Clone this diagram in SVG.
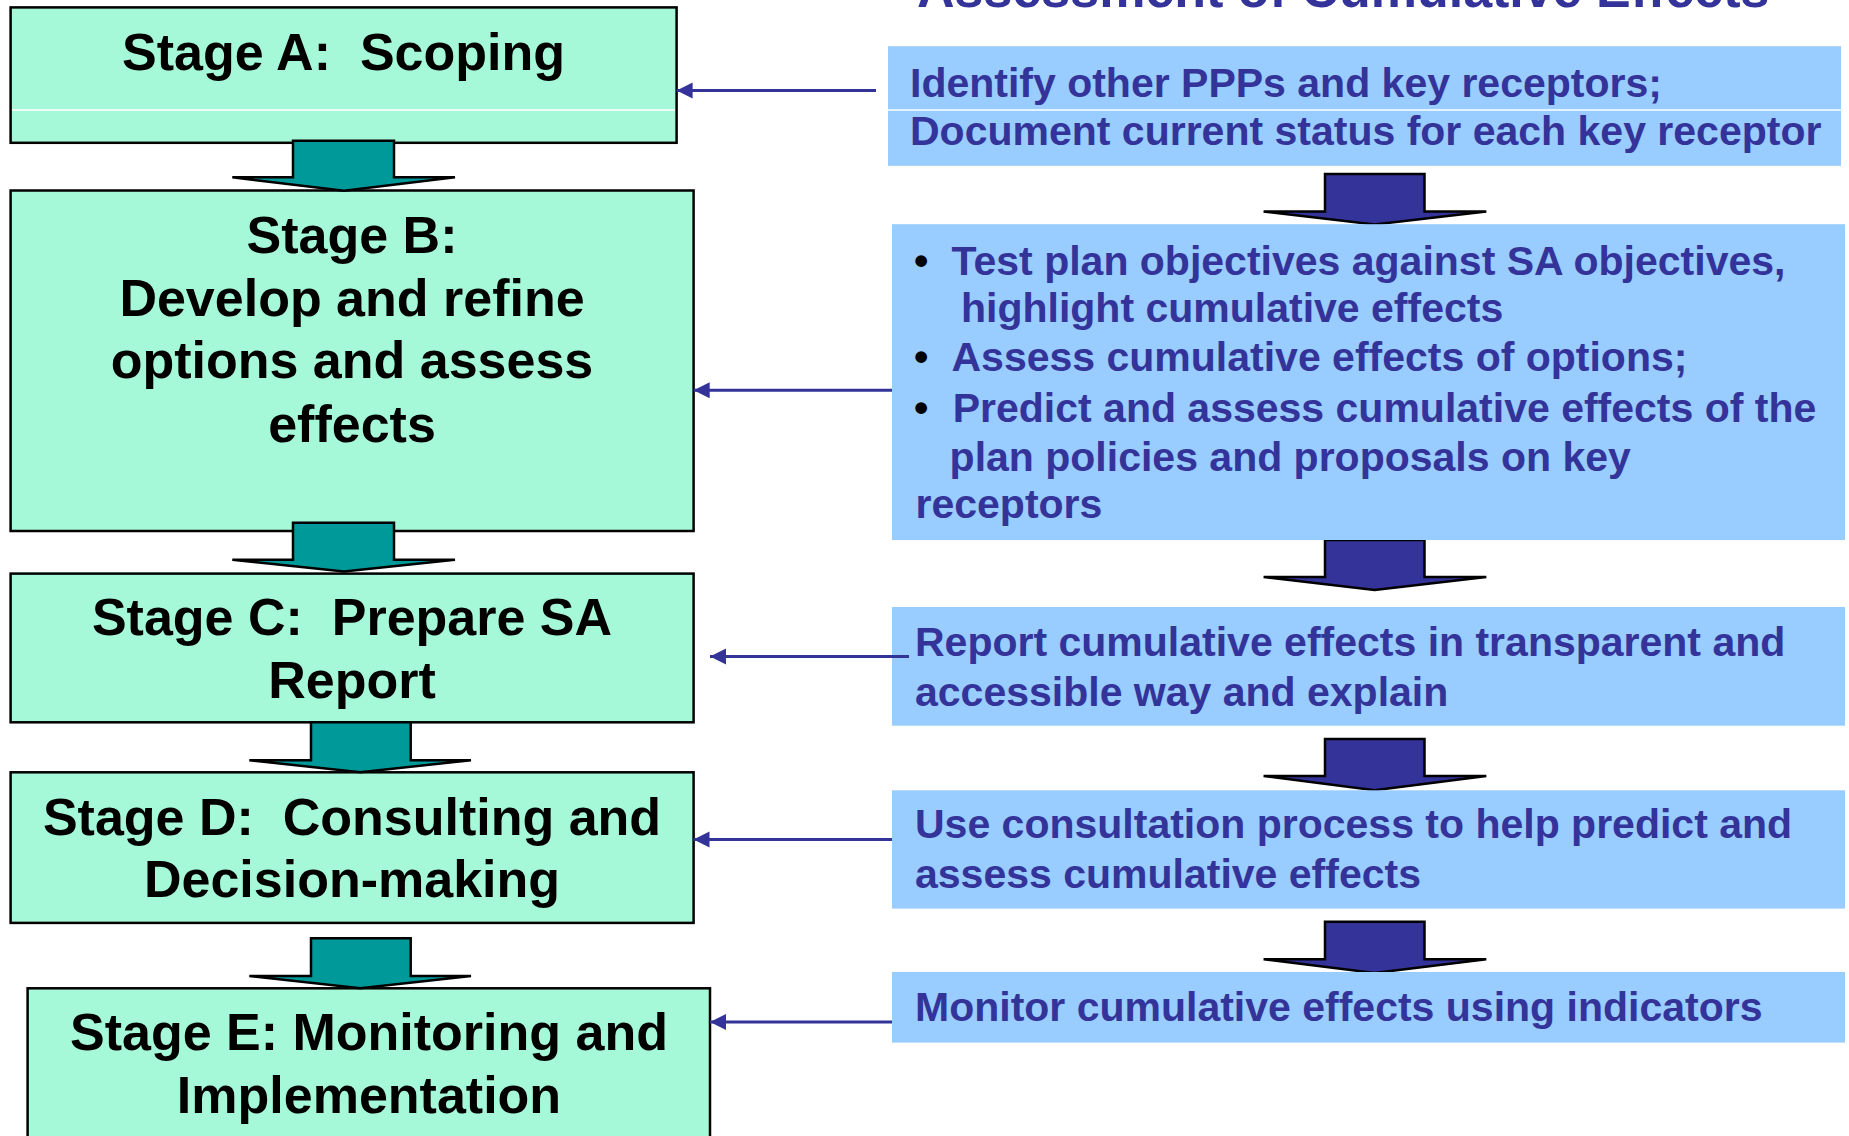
<svg xmlns="http://www.w3.org/2000/svg" width="1849" height="1136" viewBox="0 0 1849 1136">
<defs>
<style>
.stage{fill:#A6F9D8;stroke:#000;stroke-width:2.5}
.st{font-family:"Liberation Sans",Arial,sans-serif;font-weight:bold;font-size:52px;fill:#000;text-anchor:middle;white-space:pre}
.info{fill:#99CCFF}
.it{font-family:"Liberation Sans",Arial,sans-serif;font-weight:bold;font-size:41px;fill:#333399;white-space:pre}
.bul{fill:#000}
.tarrow{fill:#009999;stroke:#000;stroke-width:2.5;stroke-linejoin:miter}
.barrow{fill:#333399;stroke:#000;stroke-width:2.5;stroke-linejoin:miter}
.conn{stroke:#333399;stroke-width:3;fill:none}
.sep{stroke:#fff;stroke-width:1.5}
</style>
<marker id="ah" markerUnits="userSpaceOnUse" markerWidth="18" markerHeight="18" refX="16" refY="8" orient="auto">
<path d="M0,0 L16,8 L0,16 Z" fill="#333399"/>
</marker>
</defs>
<rect width="1849" height="1136" fill="#fff"/>

<text class="it" x="917" y="7" style="font-size:52px">Assessment of Cumulative Effects</text>

<g id="stageA">
<rect class="stage" x="10.6" y="7.4" width="666" height="135.4"/>
<line class="sep" x1="12" y1="110" x2="675" y2="110"/>
<text class="st" x="343.5" y="69.6">Stage A:  Scoping</text>
</g>

<g id="stageB">
<rect class="stage" x="10.6" y="190.5" width="683" height="340.5"/>
<text class="st" x="352" y="252.7">Stage B:</text>
<text class="st" x="352" y="315.6">Develop and refine</text>
<text class="st" x="352" y="378">options and assess</text>
<text class="st" x="352" y="442">effects</text>
</g>

<g id="stageC">
<rect class="stage" x="10.6" y="573.6" width="683" height="148.7"/>
<text class="st" x="352" y="635.3">Stage C:  Prepare SA</text>
<text class="st" x="352" y="697.7">Report</text>
</g>

<g id="stageD">
<rect class="stage" x="10.6" y="772.3" width="683" height="150.6"/>
<text class="st" x="352" y="834.7">Stage D:  Consulting and</text>
<text class="st" x="352" y="897.2">Decision-making</text>
</g>

<g id="stageE">
<rect class="stage" x="27.6" y="988.3" width="682.4" height="170"/>
<text class="st" x="369" y="1050.3">Stage E: Monitoring and</text>
<text class="st" x="369" y="1112.8">Implementation</text>
</g>

<g id="flowArrows">
<path class="tarrow" d="M293,140.7 L394,140.7 L394,177.3 L455,177.3 L344,190.7 L232.3,177.3 L293,177.3 Z"/>
<path class="tarrow" d="M293,522.7 L394,522.7 L394,559.7 L455,559.7 L344,571.5 L232.3,559.7 L293,559.7 Z"/>
<path class="tarrow" d="M311,722.3 L410.7,722.3 L410.7,760.2 L471,760.2 L360.2,772.3 L249.3,760.2 L311,760.2 Z"/>
<path class="tarrow" d="M311,938.3 L410.7,938.3 L410.7,976 L471,976 L360.2,988.3 L249.3,976 L311,976 Z"/>
<path class="barrow" d="M1325,174 L1424.5,174 L1424.5,211.6 L1486.3,211.6 L1374.6,224.6 L1263.6,211.6 L1325,211.6 Z"/>
<path class="barrow" d="M1325,540 L1424.5,540 L1424.5,577 L1486.3,577 L1374.6,590 L1263.6,577 L1325,577 Z"/>
<path class="barrow" d="M1325,739 L1424.5,739 L1424.5,776 L1486.3,776 L1374.6,790.3 L1263.6,776 L1325,776 Z"/>
<path class="barrow" d="M1325,921.8 L1424.5,921.8 L1424.5,959.3 L1486.3,959.3 L1374.6,972.9 L1263.6,959.3 L1325,959.3 Z"/>
</g>

<g id="info1">
<rect class="info" x="888" y="46.2" width="953" height="119.6"/>
<line class="sep" x1="888" y1="110" x2="1841" y2="110"/>
<text class="it" x="910" y="97">Identify other PPPs and key receptors;</text>
<text class="it" x="910" y="145">Document current status for each key receptor</text>
</g>

<g id="info2">
<rect class="info" x="892" y="224.2" width="953" height="315.8"/>
<text class="it bul" x="914" y="274.5">•</text>
<text class="it" x="951.5" y="274.5">Test plan objectives against SA objectives,</text>
<text class="it" x="961" y="322">highlight cumulative effects</text>
<text class="it bul" x="914" y="371">•</text>
<text class="it" x="951.5" y="371">Assess cumulative effects of options;</text>
<text class="it bul" x="914" y="422">•</text>
<text class="it" x="952.7" y="422">Predict and assess cumulative effects of the</text>
<text class="it" x="949.6" y="470.6">plan policies and proposals on key</text>
<text class="it" x="915.5" y="518">receptors</text>
</g>

<g id="info3">
<rect class="info" x="892" y="607" width="953" height="118.7"/>
<text class="it" x="915" y="656">Report cumulative effects in transparent and</text>
<text class="it" x="915" y="706">accessible way and explain</text>
</g>

<g id="info4">
<rect class="info" x="892" y="790.3" width="953" height="118.3"/>
<text class="it" x="915" y="838">Use consultation process to help predict and</text>
<text class="it" x="915" y="888">assess cumulative effects</text>
</g>

<g id="info5">
<rect class="info" x="892" y="972" width="953" height="70.6"/>
<text class="it" x="915" y="1021">Monitor cumulative effects using indicators</text>
</g>

<g id="connectors">
<line class="conn" x1="876" y1="90.6" x2="676.6" y2="90.6" marker-end="url(#ah)"/>
<line class="conn" x1="892" y1="390.3" x2="693.7" y2="390.3" marker-end="url(#ah)"/>
<line class="conn" x1="909" y1="656.6" x2="710" y2="656.6" marker-end="url(#ah)"/>
<line class="conn" x1="892" y1="839.5" x2="693.5" y2="839.5" marker-end="url(#ah)"/>
<line class="conn" x1="892" y1="1022" x2="710" y2="1022" marker-end="url(#ah)"/>
</g>
</svg>
